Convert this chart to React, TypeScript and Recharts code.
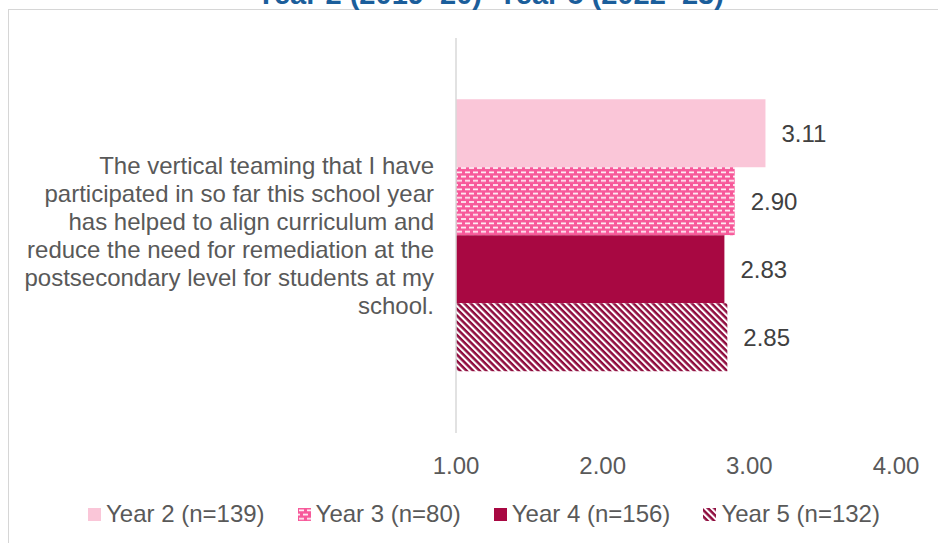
import React from 'react';
import { BarChart, Bar, XAxis, YAxis, Legend, LabelList } from 'recharts';

const FONT = '"Liberation Sans", Arial, sans-serif';

const questionLines = [
  'The vertical teaming that I have',
  'participated in so far this school year',
  'has helped to align curriculum and',
  'reduce the need for remediation at the',
  'postsecondary level for students at my',
  'school.',
];
const categories = [questionLines.join('\n')];

const seriesNames = ['Year 2 (n=139)', 'Year 3 (n=80)', 'Year 4 (n=156)', 'Year 5 (n=132)'];
const year2 = [3.11];
const year3 = [2.9];
const year4 = [2.83];
const year5 = [2.85];

const xTicks = [1, 2, 3, 4];

const data = categories.map((question, i) => ({
  question,
  y2: year2[i],
  y3: year3[i],
  y4: year4[i],
  y5: year5[i],
}));

const series = [
  { key: 'y2', name: seriesNames[0], fill: '#FAC6D8' },
  { key: 'y3', name: seriesNames[1], fill: 'url(#dashPink)' },
  { key: 'y4', name: seriesNames[2], fill: '#A80842' },
  { key: 'y5', name: seriesNames[3], fill: 'url(#stripeMaroon)' },
];

// fill patterns for Year 3 (dashed bricks) and Year 5 (diagonal stripes)
function Patterns({ prefix = '' }: { prefix?: string }) {
  return (
    <defs>
      <pattern id={prefix + 'dashPink'} patternUnits="userSpaceOnUse" width={8} height={8.5}>
        <rect x={0} y={0} width={8} height={8.5} fill="#F7599A" />
        <rect x={1} y={1.5} width={5} height={1.6} fill="#fff" />
        <rect x={5} y={5.75} width={5} height={1.6} fill="#fff" />
        <rect x={-3} y={5.75} width={5} height={1.6} fill="#fff" />
      </pattern>
      <pattern
        id={prefix + 'stripeMaroon'}
        patternUnits="userSpaceOnUse"
        width={4.6}
        height={4.6}
        patternTransform="rotate(-45)"
      >
        <rect x={0} y={0} width={4.6} height={4.6} fill="#8E0B3D" />
        <rect x={0} y={0} width={2.1} height={4.6} fill="#fff" />
      </pattern>
    </defs>
  );
}

function QuestionTick(props: any) {
  const { x, y, payload } = props;
  const lines = String(payload.value).split('\n');
  const lineH = 28;
  const startY = y - ((lines.length - 1) * lineH) / 2;
  return (
    <text x={x} y={startY} textAnchor="end" fill="#595959" fontSize={24} fontFamily={FONT}>
      {lines.map((line, i) => (
        <tspan key={i} x={x} y={startY + i * lineH} dy="0.35em">
          {line}
        </tspan>
      ))}
    </text>
  );
}

function LegendContent() {
  return (
    <div
      style={{
        display: 'flex',
        alignItems: 'center',
        height: 40,
        paddingLeft: 88,
        fontFamily: FONT,
        fontSize: 24,
        color: '#595959',
      }}
    >
      {series.map((s, i) => (
        <div key={s.key} style={{ display: 'flex', alignItems: 'center', marginRight: i < 3 ? 33 : 0 }}>
          <svg width={13} height={13} style={{ marginRight: 5 }}>
            <Patterns prefix="lg-" />
            <rect width={13} height={13} fill={s.fill.replace('url(#', 'url(#lg-')} />
          </svg>
          <span style={{ whiteSpace: 'nowrap' }}>{s.name}</span>
        </div>
      ))}
    </div>
  );
}

export default function App() {
  return (
    <div style={{ position: 'absolute', left: 0, top: 0, width: 938, height: 543, overflow: 'hidden', background: '#fff' }}>
      <div
        style={{
          position: 'absolute',
          left: 8,
          top: 9,
          width: 960,
          height: 560,
          border: '1px solid #D6D6D6',
        }}
      />
      <div
        style={{
          position: 'absolute',
          left: 0,
          width: 980,
          top: -20.5,
          lineHeight: '29px',
          fontSize: 29,
          fontWeight: 'bold',
          fontFamily: FONT,
          color: '#1B5E9B',
          textAlign: 'center',
          whiteSpace: 'nowrap',
        }}
      >
        Year 2 (2019–20)–Year 5 (2022–23)
      </div>
      <BarChart
        width={938}
        height={543}
        data={data}
        layout="vertical"
        margin={{ top: 38, right: 42, bottom: 9, left: 0 }}
        barCategoryGap="15.5%"
        barGap={0}
      >
        <Patterns />
        <XAxis
          type="number"
          domain={[1, 4]}
          ticks={xTicks}
          tickFormatter={(v: number) => v.toFixed(2)}
          axisLine={false}
          tickLine={false}
          tickSize={0}
          tickMargin={24}
          height={61}
          tick={{ fill: '#595959', fontSize: 24, fontFamily: FONT }}
        />
        <YAxis
          type="category"
          dataKey="question"
          width={456}
          axisLine={{ stroke: '#D9D9D9', strokeWidth: 1.5 }}
          tickLine={false}
          tickSize={0}
          tickMargin={22}
          tick={<QuestionTick />}
        />
        <Legend verticalAlign="bottom" content={<LegendContent />} wrapperStyle={{ left: 0, width: 938 }} />
        {series.map((s) => (
          <Bar key={s.key} dataKey={s.key} name={s.name} fill={s.fill} isAnimationActive={false}>
            <LabelList
              dataKey={s.key}
              position="right"
              offset={16}
              formatter={(v: any) => Number(v).toFixed(2)}
              style={{ fill: '#404040', fontSize: 24, fontFamily: FONT }}
            />
          </Bar>
        ))}
      </BarChart>
    </div>
  );
}
